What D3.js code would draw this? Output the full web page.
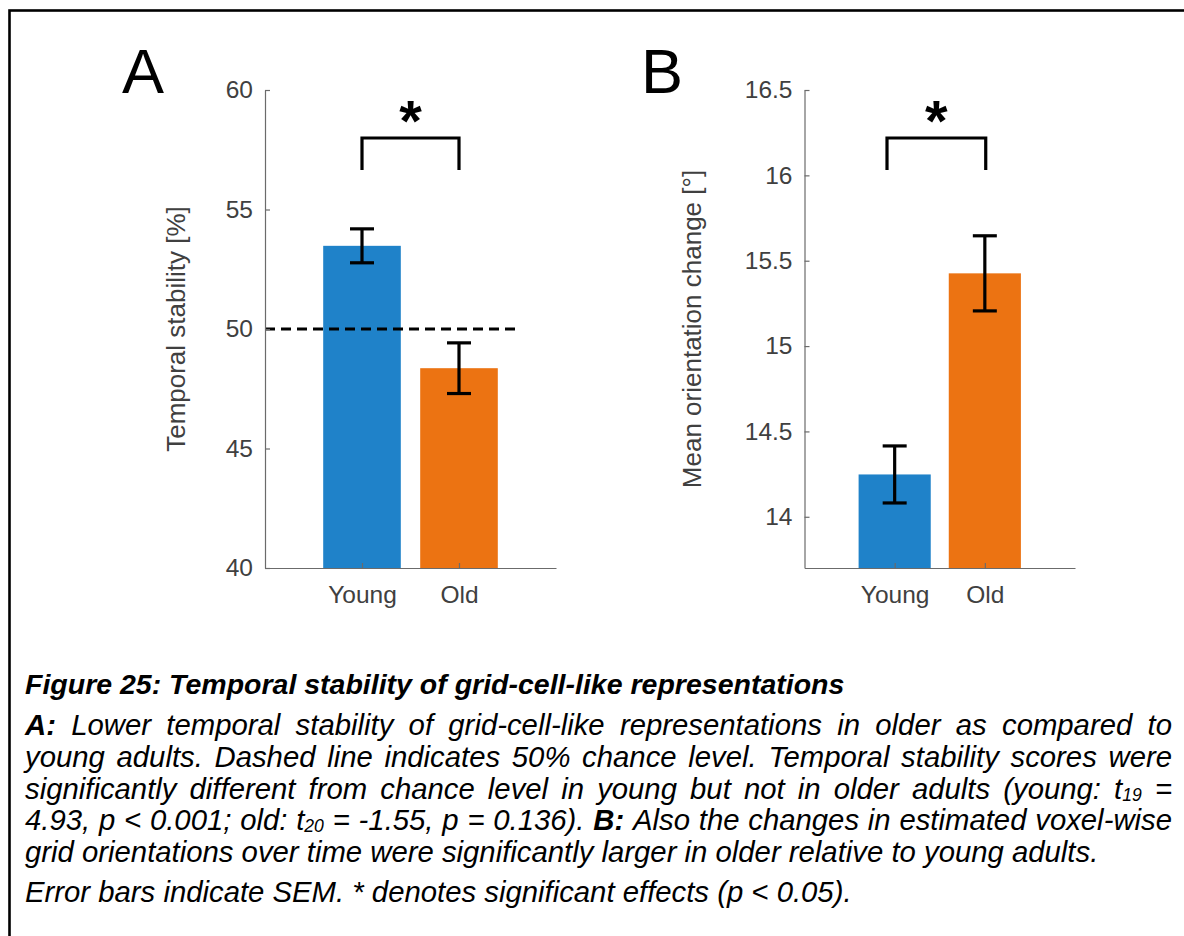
<!DOCTYPE html>
<html>
<head>
<meta charset="utf-8">
<script src="https://cdn.jsdelivr.net/npm/d3@7"></script>
<style>
  body { margin: 0; background: #fff; }
  svg { display: block; }
  .axis text { font-family: "Liberation Sans", Arial, sans-serif; fill: #404040; }
  .axis path, .axis line { stroke: #6b6b6b; stroke-width: 1.2; }
</style>
</head>
<body>
<script>
// --- data ---
const groups = ["Young", "Old"];
const groupColors = ["#1f82c9", "#ec7312"];

// panel A: temporal stability [%]
const stabilityMean = [53.48, 48.36];
const stabilitySem = [0.71, 1.06];
const stabilityTicks = [40, 45, 50, 55, 60];
const stabilityDomain = [40, 60];
const chanceLevel = 50;

// panel B: mean orientation change [deg]
const orientMean = [14.248, 15.426];
const orientSem = [0.167, 0.22];
const orientTicks = [14, 14.5, 15, 15.5, 16, 16.5];
const orientDomain = [13.7, 16.5];

const captionTitle = "Figure 25: Temporal stability of grid-cell-like representations";
const captionLines = [
  "**A:** Lower temporal stability of grid-cell-like representations in older as compared to",
  "young adults. Dashed line indicates 50% chance level. Temporal stability scores were",
  "significantly different from chance level in young but not in older adults (young: t_{19} =",
  "4.93, p < 0.001; old: t_{20} = -1.55, p = 0.136). **B:** Also the changes in estimated voxel-wise",
  "grid orientations over time were significantly larger in older relative to young adults."
];
const captionNote = "Error bars indicate SEM. * denotes significant effects (p < 0.05).";

const width = 1184, height = 936;
const font = '"Liberation Sans", Arial, sans-serif';

let svg = d3.select("body").append("svg")
    .attr("width", width)
    .attr("height", height);

// frame (cut off on the right and bottom)
svg.append("rect")
    .attr("x", 9.5).attr("y", 10.5)
    .attr("width", 1300).attr("height", 1100)
    .attr("fill", "none")
    .attr("stroke", "#000")
    .attr("stroke-width", 2.6);

const panels = [
    {letter: "A", letterX: 122, means: stabilityMean, sems: stabilitySem, domain: stabilityDomain,
     ticks: stabilityTicks, label: "Temporal stability [%]", x0: 265, x1: 556, labelX: 185,
     chance: chanceLevel, bracket: [1, 2]},
    {letter: "B", letterX: 641, means: orientMean, sems: orientSem, domain: orientDomain,
     ticks: orientTicks, label: "Mean orientation change [\u00b0]", x0: 804.5, x1: 1075, labelX: 701,
     chance: null, bracket: [0.915, 2.01]}
];

const yTop = 90, yBottom = 568;

panels.forEach(function (p) {
    let x = d3.scaleLinear().domain([0, 3]).range([p.x0, p.x1]);
    let y = d3.scaleLinear().domain(p.domain).range([yBottom, yTop]);
    let g = svg.append("g");

    // bars
    g.selectAll("rect.bar")
        .data(p.means)
        .enter().append("rect")
        .attr("class", "bar")
        .attr("x", (d, i) => x(i + 1 - 0.4))
        .attr("width", x(0.8) - x(0))
        .attr("y", d => y(d))
        .attr("height", d => yBottom - y(d))
        .attr("fill", (d, i) => groupColors[i]);

    // chance level
    if (p.chance !== null) {
        g.append("line")
            .attr("x1", x(0)).attr("x2", x(2.6))
            .attr("y1", y(p.chance)).attr("y2", y(p.chance))
            .attr("stroke", "#000")
            .attr("stroke-width", 3)
            .attr("stroke-dasharray", "10,6");
    }

    // error bars
    p.means.forEach(function (m, i) {
        let cx = x(i + 1), lo = y(m - p.sems[i]), hi = y(m + p.sems[i]);
        let eb = g.append("g").attr("stroke", "#000").attr("stroke-width", 3.2);
        eb.append("line").attr("x1", cx).attr("x2", cx).attr("y1", lo).attr("y2", hi);
        eb.append("line").attr("x1", cx - 12).attr("x2", cx + 12).attr("y1", lo).attr("y2", lo);
        eb.append("line").attr("x1", cx - 12).attr("x2", cx + 12).attr("y1", hi).attr("y2", hi);
    });

    // axes
    let yAxis = d3.axisLeft(y)
        .tickValues(p.ticks)
        .tickFormat(d => String(d))
        .tickSizeInner(-5)
        .tickSizeOuter(0)
        .tickPadding(12);
    let ya = g.append("g").attr("class", "axis")
        .attr("transform", "translate(" + p.x0 + ",0)")
        .call(yAxis);
    ya.selectAll("text").style("font-size", "24.5px");

    let xAxis = d3.axisBottom(x)
        .tickValues([1, 2])
        .tickFormat((d, i) => groups[i])
        .tickSizeInner(-5)
        .tickSizeOuter(0);
    let xa = g.append("g").attr("class", "axis")
        .attr("transform", "translate(0," + yBottom + ")")
        .call(xAxis);
    xa.selectAll("text").style("font-size", "24.5px").attr("y", 35).attr("dy", 0);

    // y label
    g.append("text")
        .attr("transform", "translate(" + p.labelX + "," + ((yTop + yBottom) / 2) + ") rotate(-90)")
        .attr("text-anchor", "middle")
        .style("font-family", font)
        .style("font-size", "26px")
        .style("fill", "#404040")
        .text(p.label);

    // panel letter
    svg.append("text")
        .attr("x", p.letterX).attr("y", 93)
        .style("font-family", font)
        .style("font-size", "63px")
        .text(p.letter);

    // significance bracket
    let bx1 = x(p.bracket[0]), bx2 = x(p.bracket[1]);
    g.append("path")
        .attr("d", "M" + bx1 + ",170V138H" + bx2 + "V170")
        .attr("fill", "none")
        .attr("stroke", "#000")
        .attr("stroke-width", 3.2);
    g.append("text")
        .attr("x", (bx1 + bx2) / 2).attr("y", 141)
        .attr("text-anchor", "middle")
        .style("font-family", font)
        .style("font-weight", "bold")
        .style("font-size", "58px")
        .text("*");
});

// --- caption ---
const titleSize = 28.5;
const capSize = 29.3;
const capLeft = 25, capRight = 1172;

svg.append("text")
    .attr("x", capLeft).attr("y", 694)
    .style("font-family", font)
    .style("font-size", titleSize + "px")
    .style("font-style", "italic")
    .style("font-weight", "bold")
    .text(captionTitle);

// split a word into styled pieces: **bold** and x_{sub}
function pieces(word) {
    let out = [];
    let bold = /^\*\*(.*)\*\*$/.exec(word);
    if (bold) return [{t: bold[1], bold: true}];
    let sub = /^(.*)_\{(.*)\}(.*)$/.exec(word);
    if (sub) {
        out.push({t: sub[1]});
        out.push({t: sub[2], sub: true});
        if (sub[3]) out.push({t: sub[3], up: true});
        return out;
    }
    return [{t: word}];
}

function drawLine(str, y, justify) {
    let words = str.split(" ");
    let g = svg.append("g");
    let els = words.map(function (w) {
        let t = g.append("text")
            .attr("y", y)
            .style("font-family", font)
            .style("font-size", capSize + "px")
            .style("font-style", "italic");
        pieces(w).forEach(function (s) {
            let ts = t.append("tspan").text(s.t);
            if (s.bold) ts.style("font-weight", "bold");
            if (s.sub) ts.style("font-size", (capSize * 0.6) + "px").attr("dy", 2);
            if (s.up) ts.attr("dy", -2);
        });
        return t;
    });
    let widths = els.map(e => e.node().getComputedTextLength());
    let total = d3.sum(widths);
    let gap = justify ? (capRight - capLeft - total) / (words.length - 1) : capSize * 0.278;
    let cx = capLeft;
    els.forEach(function (e, i) {
        e.attr("x", cx);
        cx += widths[i] + gap;
    });
}

captionLines.forEach(function (line, i) {
    drawLine(line, 735 + i * 31.8, i < captionLines.length - 1);
});
drawLine(captionNote, 902, false);
</script>
</body>
</html>
